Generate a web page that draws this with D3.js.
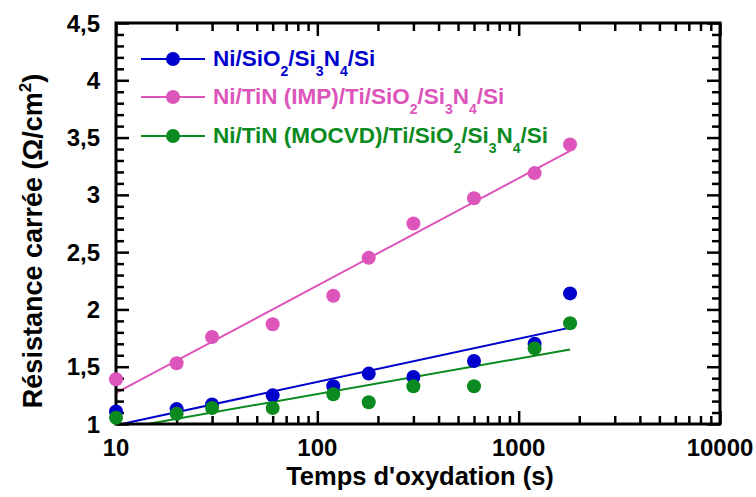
<!DOCTYPE html>
<html><head><meta charset="utf-8">
<script src="https://cdn.jsdelivr.net/npm/d3@7"></script>
<style>
body{margin:0;background:#fff}
svg text{font-family:"Liberation Sans",Arial,sans-serif;font-weight:bold}
</style>
</head><body><svg id="c" width="756" height="497"></svg>
<script>
// ---- data ----
const times = [10, 20, 30, 60, 120, 180, 300, 600, 1200, 1800];
const blueVals  = [1.11, 1.13, 1.17, 1.25, 1.33, 1.44, 1.41, 1.55, 1.70, 2.14];
const pinkVals  = [1.39, 1.53, 1.76, 1.87, 2.12, 2.45, 2.75, 2.97, 3.19, 3.44];
const greenVals = [1.055, 1.09, 1.14, 1.14, 1.26, 1.19, 1.33, 1.33, 1.66, 1.88];
const seriesKeys = ["blue", "pink", "green"];
const seriesColors = ["#0000cc", "#dd55bb", "#0b8a1f"];
const legendParts = [
  [["Ni/SiO",0],["2",1],["/Si",0],["3",1],["N",0],["4",1],["/Si",0]],
  [["Ni/TiN (IMP)/Ti/SiO",0],["2",1],["/Si",0],["3",1],["N",0],["4",1],["/Si",0]],
  [["Ni/TiN (MOCVD)/Ti/SiO",0],["2",1],["/Si",0],["3",1],["N",0],["4",1],["/Si",0]]
];
const xTickValues = [10, 100, 1000, 10000];
const xTickLabels = ["10", "100", "1000", "10000"];
const yTickValues = [1, 1.5, 2, 2.5, 3, 3.5, 4, 4.5];
const yTickLabels = ["1", "1,5", "2", "2,5", "3", "3,5", "4", "4,5"];
const xTitle = "Temps d'oxydation (s)";
const yTitleMain = "Résistance carrée (Ω/cm";
const yTitleSup = "2";

// ---- layout ----
const L = 116, R = 720, T = 23, B = 424;
const svg = d3.select("#c");
const x = d3.scaleLog().domain([10, 10000]).range([L, R]);
const y = d3.scaleLinear().domain([1, 4.5]).range([B, T]);

const seriesVals = [blueVals, pinkVals, greenVals];
const series = seriesKeys.map((k, i) => ({
  key: k, color: seriesColors[i],
  pts: times.map((t, j) => ({t, v: seriesVals[i][j]}))
}));

// least-squares fit of value vs log10(time)
function fit(pts) {
  const lx = pts.map(p => Math.log10(p.t)), vy = pts.map(p => p.v);
  const mx = d3.mean(lx), my = d3.mean(vy);
  const b = d3.sum(lx, (v, i) => (v - mx) * (vy[i] - my)) / d3.sum(lx, v => (v - mx) ** 2);
  const a = my - b * mx;
  const t0 = d3.min(pts, p => p.t), t1 = d3.max(pts, p => p.t);
  return [t0, t1].map(t => ({t, v: a + b * Math.log10(t)}));
}

svg.append("defs").append("clipPath").attr("id", "clip")
  .append("rect").attr("x", L).attr("y", T).attr("width", R - L).attr("height", B - T);

const line = d3.line().x(d => x(d.t)).y(d => y(d.v));
const gl = svg.append("g").attr("clip-path", "url(#clip)");
series.forEach(s => {
  gl.append("path").datum(fit(s.pts)).attr("d", line)
    .attr("fill", "none").attr("stroke", s.color).attr("stroke-width", 2);
});

// ---- axes (ticks inward, mirrored) ----
const minorX = [];
[10, 100, 1000].forEach(d => { for (let k = 2; k <= 9; k++) minorX.push(d * k); });
const minorY = d3.range(1, 4.5001, 0.1).map(v => +v.toFixed(2)).filter(v => !yTickValues.some(m => Math.abs(m - v) < 1e-6));

function axisG(axis, tx, ty) {
  const g = svg.append("g").attr("transform", `translate(${tx},${ty})`).call(axis);
  g.select(".domain").remove();
  g.selectAll("line").attr("stroke", "#000").attr("stroke-width", 2.5);
  g.selectAll("text").remove();
  return g;
}
// bottom
axisG(d3.axisBottom(x).tickValues(xTickValues).tickSize(-13), 0, B);
axisG(d3.axisBottom(x).tickValues(minorX).tickSize(-8), 0, B);
// top
axisG(d3.axisTop(x).tickValues(xTickValues).tickSize(-13), 0, T);
axisG(d3.axisTop(x).tickValues(minorX).tickSize(-8), 0, T);
// left
axisG(d3.axisLeft(y).tickValues(yTickValues).tickSize(-13), L, 0);
axisG(d3.axisLeft(y).tickValues(minorY).tickSize(-8), L, 0);
// right
axisG(d3.axisRight(y).tickValues(yTickValues).tickSize(-13), R, 0);
axisG(d3.axisRight(y).tickValues(minorY).tickSize(-8), R, 0);

svg.append("rect").attr("x", L).attr("y", T).attr("width", R - L).attr("height", B - T)
  .attr("fill", "none").attr("stroke", "#000").attr("stroke-width", 3);

// tick labels
svg.append("g").selectAll("text").data(xTickValues).join("text")
  .attr("x", d => x(d)).attr("y", 456).attr("text-anchor", "middle")
  .attr("font-size", 24).attr("fill", "#000")
  .text((d, i) => xTickLabels[i]);
svg.append("g").selectAll("text").data(yTickValues).join("text")
  .attr("x", 100).attr("y", d => y(d)).attr("dy", "0.36em").attr("text-anchor", "end")
  .attr("font-size", 24).attr("fill", "#000")
  .text((d, i) => yTickLabels[i]);

// titles
svg.append("text").attr("x", (L + R) / 2 + 2).attr("y", 485).attr("text-anchor", "middle")
  .attr("font-size", 25.5).attr("fill", "#000").text(xTitle);
const yt = svg.append("text").attr("transform", "translate(42,241) rotate(-90)")
  .attr("text-anchor", "middle").attr("font-size", 27).attr("fill", "#000");
yt.append("tspan").text(yTitleMain);
yt.append("tspan").attr("font-size", 17).attr("dy", -11).text(yTitleSup);
yt.append("tspan").attr("dy", 11).text(")");

// points
series.forEach(s => {
  svg.append("g").selectAll("circle").data(s.pts).join("circle")
    .attr("cx", d => x(d.t)).attr("cy", d => y(d.v)).attr("r", 7).attr("fill", s.color);
});

// legend
const legendY = [59, 97, 136];
series.forEach((s, i) => {
  const g = svg.append("g").attr("transform", `translate(0,${legendY[i]})`);
  g.append("line").attr("x1", 141).attr("x2", 205).attr("stroke", s.color).attr("stroke-width", 2);
  g.append("circle").attr("cx", 173).attr("r", 7).attr("fill", s.color);
  const t = g.append("text").attr("x", 213).attr("y", 7).attr("font-size", 22.5).attr("fill", s.color);
  let shifted = false;
  legendParts[i].forEach(([txt, sub]) => {
    const ts = t.append("tspan").text(txt);
    if (sub) { ts.attr("font-size", 14).attr("dy", shifted ? 0 : 10); shifted = true; }
    else { ts.attr("dy", shifted ? -10 : 0); shifted = false; }
  });
});
</script></body></html>
